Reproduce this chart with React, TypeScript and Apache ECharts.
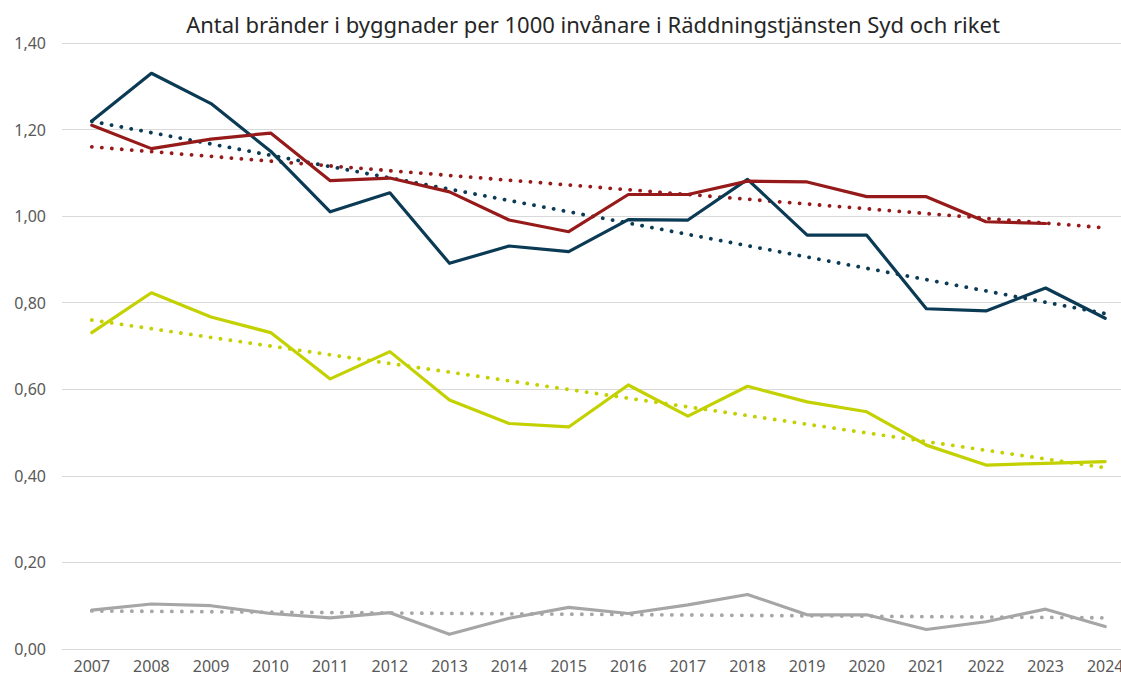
import React, { useEffect, useRef } from "react";
import * as echarts from "echarts";

const years = ["2007","2008","2009","2010","2011","2012","2013","2014","2015","2016","2017","2018","2019","2020","2021","2022","2023","2024"];

const navy = [1.22,1.33,1.26,1.15,1.01,1.054,0.891,0.931,0.918,0.992,0.991,1.085,0.956,0.956,0.786,0.781,0.834,0.764];
const red = [1.21,1.156,1.178,1.192,1.082,1.088,1.056,0.991,0.964,1.05,1.05,1.081,1.079,1.045,1.045,0.987,0.983,null];
const green = [0.731,0.823,0.767,0.731,0.624,0.687,0.575,0.521,0.513,0.61,0.538,0.607,0.571,0.548,0.471,0.425,0.429,0.433];
const gray = [0.09,0.104,0.1,0.082,0.072,0.084,0.034,0.071,0.096,0.082,0.102,0.126,0.079,0.079,0.045,0.063,0.092,0.052];

// trend line end points (2007 and 2024)
const navyTrend = [1.219, 0.775];
const redTrend = [1.16, 0.973];
const greenTrend = [0.76, 0.419];
const grayTrend = [0.088, 0.072];

const yTicks = { min: 0, max: 1.4, interval: 0.2 };

const COLORS = { navy: "#0b3a55", red: "#961a1a", green: "#c3d100", gray: "#a6a6a6" };

function trendData(ends: number[]) {
  return years.map((_, i) => (i === 0 ? ends[0] : i === years.length - 1 ? ends[1] : null));
}

export default function App() {
  const ref = useRef<HTMLDivElement>(null);
  useEffect(() => {
    document.body.style.margin = "0";
    document.body.style.overflow = "hidden";
    const chart = echarts.init(ref.current!, undefined, { renderer: "svg" });
    const solid = (name: string, data: (number | null)[], color: string) => ({
      name,
      type: "line",
      data,
      symbol: "none",
      z: 3,
      lineStyle: { color, width: 3.2, cap: "round", join: "round" },
    });
    const dotted = (name: string, ends: number[], color: string) => ({
      name,
      type: "line",
      data: trendData(ends),
      connectNulls: true,
      symbol: "none",
      z: 2,
      lineStyle: { color, width: 3.8, type: [0.1, 9.9], cap: "round" },
    });
    chart.setOption({
      animation: false,
      title: {
        text: "Antal bränder i byggnader per 1000 invånare i Räddningstjänsten Syd och riket",
        left: 588,
        textAlign: "center",
        top: 8,
        textStyle: { fontFamily: "Noto Sans", fontSize: 22, fontWeight: "normal", color: "#262626" },
      },
      grid: { left: 62, right: 0, top: 43, bottom: 32 },
      xAxis: {
        type: "category",
        data: years,
        boundaryGap: true,
        axisLine: { show: true, lineStyle: { color: "#d9d9d9", width: 1 } },
        axisTick: { show: false },
        axisLabel: { color: "#595959", fontFamily: "Noto Sans", fontSize: 16, margin: 9 },
      },
      yAxis: {
        type: "value",
        min: yTicks.min,
        max: yTicks.max,
        interval: yTicks.interval,
        axisLine: { show: false },
        axisTick: { show: false },
        splitLine: { lineStyle: { color: "#d9d9d9", width: 1 } },
        axisLabel: {
          color: "#595959",
          fontFamily: "Noto Sans",
          fontSize: 16,
          margin: 16,
          formatter: (v: number) => v.toFixed(2).replace(".", ","),
        },
      },
      series: [
        dotted("Syd trend", navyTrend, COLORS.navy),
        dotted("Riket trend", redTrend, COLORS.red),
        dotted("Grön trend", greenTrend, COLORS.green),
        dotted("Grå trend", grayTrend, COLORS.gray),
        solid("Syd", navy, COLORS.navy),
        solid("Riket", red, COLORS.red),
        solid("Grön", green, COLORS.green),
        solid("Grå", gray, COLORS.gray),
      ],
    });
    return () => chart.dispose();
  }, []);
  return <div ref={ref} style={{ width: 1135, height: 681 }} />;
}
